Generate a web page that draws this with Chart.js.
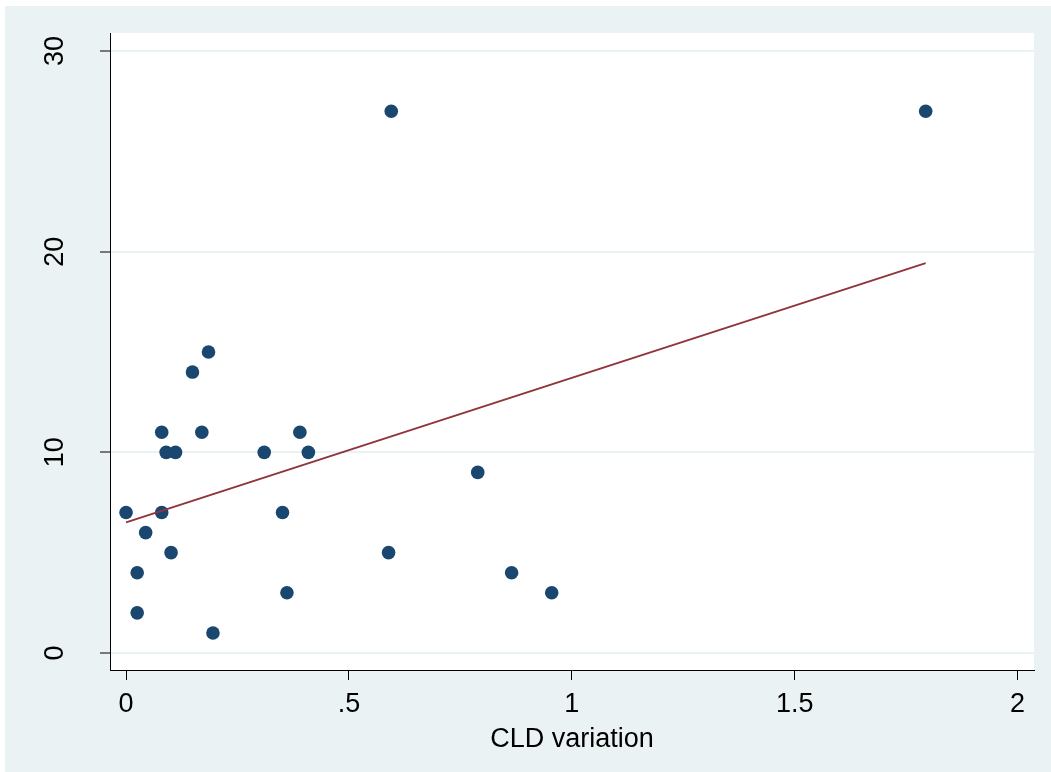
<!DOCTYPE html>
<html>
<head>
<meta charset="utf-8">
<title>CLD variation scatter</title>
<script src="https://cdn.jsdelivr.net/npm/chart.js@4/dist/chart.umd.min.js"></script>
<style>
  html, body { margin: 0; padding: 0; background: #ffffff; }
  #wrap { position: absolute; left: 5px; top: 6px; width: 1046px; height: 766px; background: #eaf2f3; }
  canvas { display: block; }
</style>
</head>
<body>
<div id="wrap"><canvas id="scatterChart" width="1046" height="766"></canvas></div>
<script>
const cldVariation = [0, 0.025, 0.025, 0.044, 0.08, 0.08, 0.09, 0.101, 0.111, 0.149, 0.17, 0.185, 0.195,
  0.31, 0.351, 0.361, 0.39, 0.409, 0.595, 0.589, 0.789, 0.865, 0.955, 1.794];
const outcome = [7, 4, 2, 6, 11, 7, 10, 5, 10, 14, 11, 15, 1,
  10, 7, 3, 11, 10, 27, 5, 9, 4, 3, 27];

// Fitted line end points
const fitX = [0, 1.794];
const fitY = [6.51, 19.43];

// Tick labels
const xTicks = [0, 0.5, 1, 1.5, 2];
const xTickLabels = ['0', '.5', '1', '1.5', '2'];
const yTicks = [0, 10, 20, 30];
const yTickLabels = ['0', '10', '20', '30'];

const fontFamily = '"Liberation Sans", Arial, Helvetica, sans-serif';

const points = cldVariation.map((x, i) => ({ x: x, y: outcome[i] }));
const fitLine = fitX.map((x, i) => ({ x: x, y: fitY[i] }));

// Paint the plot region white, the rest stays light blue-grey
const plotBackground = {
  id: 'plotBackground',
  beforeDraw(chart) {
    const { ctx, chartArea } = chart;
    ctx.save();
    ctx.fillStyle = '#ffffff';
    ctx.fillRect(chartArea.left, chartArea.top, chartArea.right - chartArea.left, chartArea.bottom - chartArea.top);
    ctx.restore();
  }
};

const ctx = document.getElementById('scatterChart').getContext('2d');

new Chart(ctx, {
  type: 'scatter',
  data: {
    datasets: [
      {
        type: 'line',
        label: 'Fitted values',
        data: fitLine,
        borderColor: '#90353b',
        borderWidth: 2,
        pointRadius: 0,
        fill: false,
        order: 0
      },
      {
        label: 'Observed',
        data: points,
        backgroundColor: '#1a476f',
        borderColor: '#1a476f',
        borderWidth: 0,
        pointRadius: 6.8,
        order: 1
      }
    ]
  },
  plugins: [plotBackground],
  options: {
    responsive: false,
    animation: false,
    layout: { padding: { top: 27, right: 17, left: 0, bottom: 0 } },
    plugins: {
      legend: { display: false },
      tooltip: { enabled: false }
    },
    scales: {
      x: {
        type: 'linear',
        min: -0.036,
        max: 2.037,
        afterFit(scale) { scale.height = 102; },
        afterBuildTicks(scale) { scale.ticks = xTicks.map(v => ({ value: v })); },
        border: { display: true, color: '#000000', width: 1 },
        grid: { drawOnChartArea: false, drawTicks: true, tickLength: 10, tickColor: '#000000', tickWidth: 1 },
        ticks: {
          padding: 8,
          color: '#000000',
          font: { family: fontFamily, size: 27 },
          maxRotation: 0,
          callback: (value) => xTickLabels[xTicks.indexOf(value)]
        },
        title: {
          display: true,
          text: 'CLD variation',
          color: '#000000',
          font: { family: fontFamily, size: 27 },
          padding: { top: 0, bottom: 16 }
        }
      },
      y: {
        type: 'linear',
        min: -0.847,
        max: 30.897,
        afterFit(scale) {
          scale.width = 105;
          // the big tick padding should not push the plot area down
          scale.paddingTop = 0;
          scale.paddingBottom = 0;
        },
        afterBuildTicks(scale) { scale.ticks = yTicks.map(v => ({ value: v })); },
        border: { display: true, color: '#000000', width: 1 },
        grid: { color: '#eaf2f3', lineWidth: 2, drawTicks: true, tickLength: 10, tickColor: '#000000', tickWidth: 1 },
        ticks: {
          padding: 29,
          minRotation: 90,
          maxRotation: 90,
          crossAlign: 'center',
          color: '#000000',
          font: { family: fontFamily, size: 27 },
          callback: (value) => yTickLabels[yTicks.indexOf(value)]
        }
      }
    }
  }
});
</script>
</body>
</html>
